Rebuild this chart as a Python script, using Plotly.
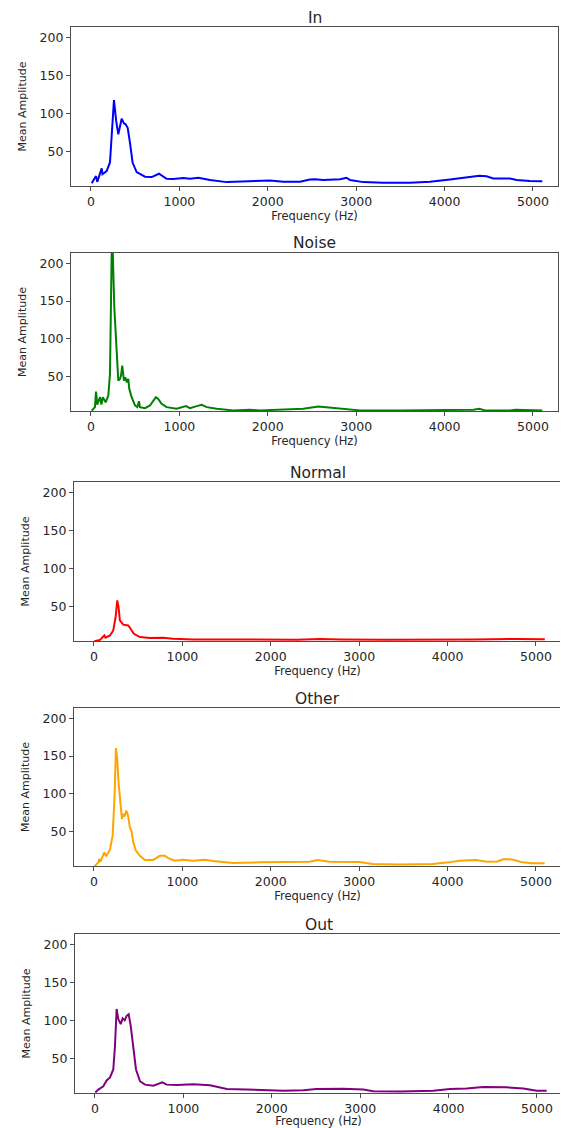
import plotly.graph_objects as go

# ---------------- data ----------------
titles = ["In", "Noise", "Normal", "Other", "Out"]
colors = ["blue", "green", "red", "orange", "purple"]

freq_in = [8, 57, 71, 121, 130, 177, 215, 240, 260, 285, 309, 347, 373, 390, 415, 441, 471, 517, 611, 687,
           769, 856, 931, 1044, 1120, 1214, 1346, 1535, 1761, 2025, 2175, 2364, 2477, 2534, 2628, 2817, 2892,
           2930, 3080, 3306, 3608, 3835, 4061, 4250, 4393, 4474, 4551, 4740, 4815, 4966, 5105]
amp_in = [8, 17.5, 10, 27.6, 20, 24, 35.5, 80, 117.5, 90, 72.4, 93, 86.8, 86, 81, 61.4, 35, 22.8, 16.7, 16.2,
          20.6, 14, 13.6, 15, 14, 15.3, 12.3, 9.6, 10.5, 11.8, 10, 10, 13, 13.4, 12.3, 13.4, 15.4,
          12.3, 9.6, 8.8, 8.8, 10, 13, 15.4, 18, 17.4, 14.5, 14.2, 12.3, 11, 10.6]

freq_noise = [8, 45, 57, 71, 102, 118, 134, 166, 196, 215, 234, 245, 264, 290, 309, 328, 340, 354, 373, 388,
              404, 422, 433, 460, 498, 524, 543, 554, 611, 667, 705, 735, 760, 799, 856, 969, 1075, 1120,
              1196, 1252, 1309, 1422, 1610, 1799, 1912, 2175, 2402, 2571, 2703, 2854, 3042, 3494, 4061,
              4325, 4393, 4457, 4740, 4800, 5105]
amp_noise = [5, 9.6, 30.3, 13, 22.8, 13, 22.8, 16, 25, 53.5, 212, 220, 141, 75.4, 44.7, 47, 51.3, 64.5, 44.7, 49,
             42.5, 47, 33.8, 22.8, 11.8, 9.6, 17.5, 9.6, 8.3, 11.8, 18.4, 22.8, 20.6, 14, 9.6, 7.5, 11, 8.3,
             11, 12.7, 9.6, 7.5, 5.3, 6, 5.3, 6.2, 7.5, 10.5, 9, 7, 5.3, 5.3, 5.3,
             6.2, 7.5, 5.3, 5.3, 6, 5]

freq_normal = [4, 68, 117, 130, 181, 218, 245, 263, 278, 293, 331, 387, 414, 451, 519, 632, 782, 895, 1120,
               1873, 2300, 2550, 2800, 3300, 3800, 4300, 4800, 5100]
amp_normal = [4.3, 6, 11.8, 9, 11.8, 18.4, 36, 57.9, 49, 31.6, 26, 25, 20.6, 14, 9.6, 8.3, 8.7, 7.5, 6.6,
              6.2, 6.2, 7.2, 6.5, 6.2, 6.2, 6.5, 7.2, 6.8]

freq_other = [3, 49, 60, 72, 94, 117, 136, 181, 211, 233, 248, 263, 278, 301, 316, 331, 346, 365, 384, 406,
              425, 444, 474, 519, 576, 670, 745, 801, 839, 914, 1008, 1121, 1253, 1347, 1572, 1873, 1986,
              2325, 2438, 2532, 2663, 3002, 3153, 3454, 3830, 4018, 4131, 4319, 4451, 4564, 4639, 4733,
              4846, 4959, 5098]
amp_other = [4, 9.3, 13.8, 10, 16, 22.5, 17.5, 26, 44.7, 97.7, 160.4, 146, 115, 84.5, 66.8, 73.5, 70, 77.8,
             72, 55.7, 50, 35.8, 24.8, 18, 12.5, 12.5, 18, 18, 15, 11.5, 12.7, 11.5, 12.8, 11, 8.5, 9.3,
             9.3, 9.3, 10, 12.5, 10, 9.7, 7.2, 6.5, 7.2, 9.3, 11.5, 12.5, 10, 10.5, 13.8, 13, 9.3, 8, 8]

freq_out = [4, 38, 94, 132, 170, 207, 226, 245, 264, 291, 313, 336, 358, 381, 404, 434, 464, 509, 566, 660,
            735, 762, 811, 924, 1113, 1301, 1490, 1678, 1867, 2130, 2356, 2508, 2809, 3035, 3148, 3450,
            3827, 4016, 4204, 4393, 4657, 4846, 4996, 5110]
amp_out = [5.3, 9, 13.3, 21, 25, 35.4, 66, 115, 101.7, 95, 102.6, 100, 106, 108, 93, 62, 35.4, 20, 15.5, 14,
           17.8, 18.4, 15.5, 15, 16, 14.6, 9.8, 9, 8, 7.6, 8, 9.8, 10, 9, 6.7, 6.5,
           7.6, 9.8, 10.3, 12.5, 12, 10.3, 7.6, 7.6]

x_ticks = [0, 1000, 2000, 3000, 4000, 5000]
y_ticks = [50, 100, 150, 200]
x_range = [-226, 5283]
y_range = [4.5, 213.5]

series = [(freq_in, amp_in), (freq_noise, amp_noise), (freq_normal, amp_normal),
          (freq_other, amp_other), (freq_out, amp_out)]

# ---------------- layout geometry (pixels in the page) ----------------
OFF = 8                      # default page margin around the plot div
W, H = 568 - OFF, 1128 - OFF
panels = [  # left, right, top, bottom (page pixels)
    (71, 558, 27, 186),
    (71, 558, 253, 411),
    (74, 561, 482, 641),
    (74, 561, 708, 866),
    (75, 562, 934, 1093),
]

FONT = "DejaVu Sans"
AX = "#4d4d4d"
TXT = "#262626"

fig = go.Figure()
layout = dict(
    width=W, height=H,
    margin=dict(l=0, r=0, t=0, b=0),
    paper_bgcolor="white", plot_bgcolor="white",
    showlegend=False,
    font=dict(family=FONT, color=TXT, size=12),
    annotations=[],
)

for i, ((fx, fy), (l, r, t, b)) in enumerate(zip(series, panels)):
    l, r, t, b = l - OFF, r - OFF, t - OFF, b - OFF
    n = "" if i == 0 else str(i + 1)
    fig.add_trace(go.Scatter(x=fx, y=fy, mode="lines",
                             line=dict(color=colors[i], width=2),
                             xaxis="x" + n, yaxis="y" + n, hoverinfo="skip"))
    common = dict(showline=True, linecolor=AX, linewidth=1.2, mirror=True,
                  ticks="outside", ticklen=4, tickwidth=1, tickcolor=AX,
                  showgrid=False, zeroline=False,
                  tickfont=dict(family=FONT, size=12.5, color=TXT))
    layout["xaxis" + n] = dict(common, domain=[l / W, r / W], anchor="y" + n,
                               range=x_range, tickvals=x_ticks,
                               title=dict(text="Frequency (Hz)", standoff=1,
                                          font=dict(family=FONT, size=11.5, color=TXT)))
    layout["yaxis" + n] = dict(common, domain=[1 - b / H, 1 - t / H], anchor="x" + n,
                               range=y_range, tickvals=y_ticks,
                               title=dict(text="Mean Amplitude", standoff=10,
                                          font=dict(family=FONT, size=11, color=TXT)))
    layout["annotations"].append(dict(
        text=titles[i], x=(l + r) / 2 / W, y=1 - (t - 9.5) / H, xref="paper", yref="paper",
        xanchor="center", yanchor="middle", showarrow=False, borderpad=0,
        font=dict(family=FONT, size=15.5, color=TXT)))

fig.update_layout(layout)
fig.write_html("out.html")
